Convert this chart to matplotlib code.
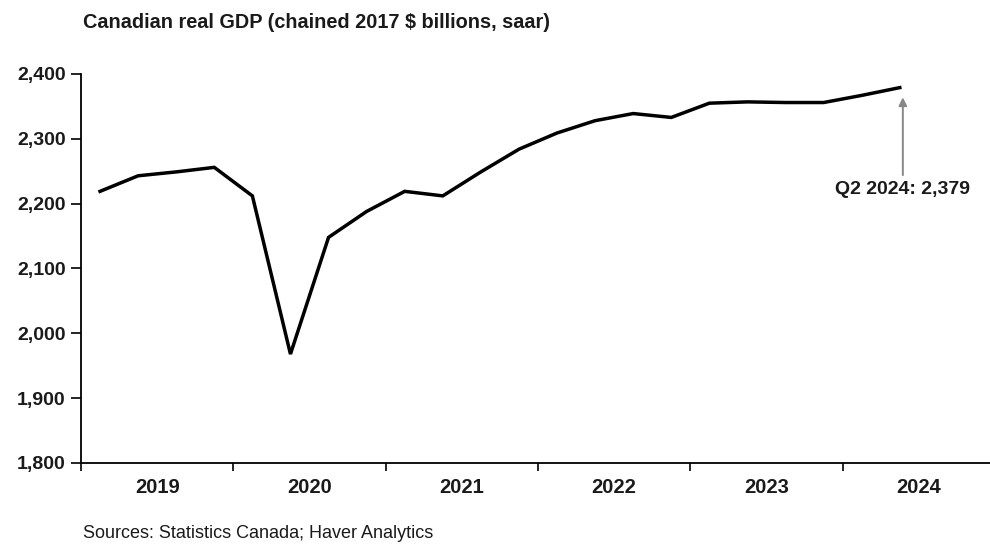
import matplotlib
matplotlib.use("Agg")
import matplotlib.pyplot as plt
import numpy as np

plt.rcParams['font.family'] = ['Liberation Sans', 'DejaVu Sans']

quarters = ["2019Q1", "2019Q2", "2019Q3", "2019Q4",
            "2020Q1", "2020Q2", "2020Q3", "2020Q4",
            "2021Q1", "2021Q2", "2021Q3", "2021Q4",
            "2022Q1", "2022Q2", "2022Q3", "2022Q4",
            "2023Q1", "2023Q2", "2023Q3", "2023Q4",
            "2024Q1", "2024Q2"]
gdp = [2219, 2243, 2249, 2256,
       2212, 1968, 2148, 2188,
       2219, 2212, 2249, 2284,
       2309, 2328, 2339, 2333,
       2355, 2357, 2356, 2356,
       2367, 2379]
years = [2019, 2020, 2021, 2022, 2023, 2024]
year_labels = ["2019", "2020", "2021", "2022", "2023", "2024"]
yticks = [1800, 1900, 2000, 2100, 2200, 2300, 2400]
ytick_labels = ["1,800", "1,900", "2,000", "2,100", "2,200", "2,300", "2,400"]
title = "Canadian real GDP (chained 2017 $ billions, saar)"
source = "Sources: Statistics Canada; Haver Analytics"
annot = "Q2 2024: 2,379"

# quarter positions as fractional years (mid-quarter)
xq = np.array([int(q[:4]) + (int(q[-1]) - 0.5) / 4 for q in quarters])

W, H = 990, 544
fig = plt.figure(figsize=(W / 100, H / 100), dpi=100)
left, right = 81, 995
top, bottom = 74, 463
ax = fig.add_axes([left / W, 1 - bottom / H, (right - left) / W, (bottom - top) / H])

ax.plot(xq, gdp, color='black', lw=2.5, solid_joinstyle='miter')

ax.set_xlim(2019, 2025)
ax.set_ylim(1800, 2400)

txtc = '#1a1a1a'
ax.set_yticks(yticks)
ax.set_yticklabels(ytick_labels, fontsize=14, fontweight='bold', color=txtc)
ax.set_xticks(years + [2025])
ax.set_xticklabels([])
ax.set_xticks([y + 0.5 for y in years], minor=True)
ax.set_xticklabels(year_labels, minor=True, fontsize=14.5, fontweight='bold', color=txtc)
ax.tick_params(axis='x', which='minor', length=0, pad=11)
ax.tick_params(axis='x', which='major', length=6, width=1.2, direction='out')
ax.tick_params(axis='y', length=7, width=1.2, direction='out', pad=4)

for s in ['top', 'right']:
    ax.spines[s].set_visible(False)
for s in ['left', 'bottom']:
    ax.spines[s].set_linewidth(1.3)

ax.annotate("", xy=(xq[-1] + 0.02, 2364), xytext=(xq[-1] + 0.02, 2244),
            arrowprops=dict(arrowstyle='-|>', color='#888888', lw=1.4,
                            mutation_scale=12, shrinkA=0, shrinkB=0))
ax.text(xq[-1] + 0.02, 2222, annot, ha='center', va='center', fontsize=14,
        fontweight='bold', color=txtc)

fig.text(83 / W, 1 - 22 / H, title, ha='left', va='center', fontsize=14.3,
         fontweight='bold', color=txtc)
fig.text(83 / W, 1 - 534 / H, source, ha='left', va='center', fontsize=13,
         color=txtc)

fig.savefig("out.png", dpi=100, facecolor='white')
